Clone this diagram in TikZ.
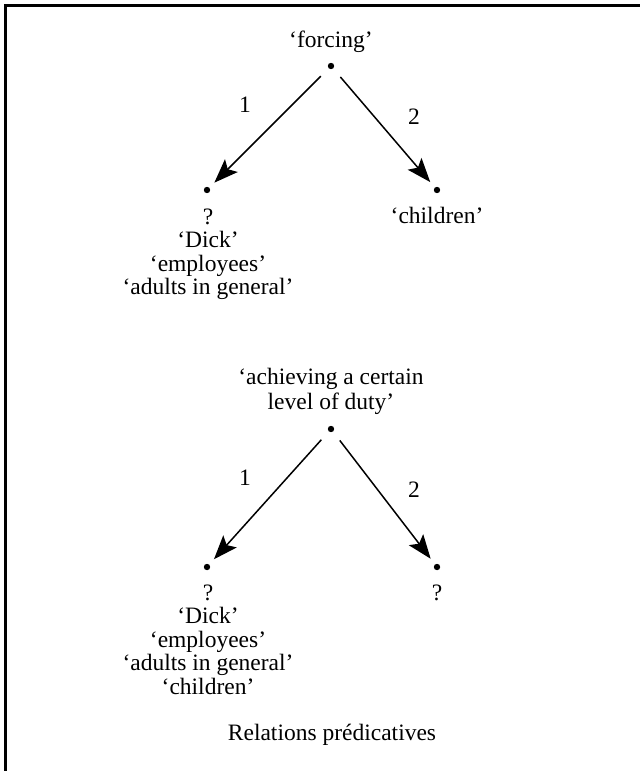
\documentclass[tikz,border=0pt]{standalone}
\usepackage{fontspec}
\setmainfont{Liberation Serif}
\usetikzlibrary{arrows.meta}
\begin{document}
\begin{tikzpicture}[x=0.5pt,y=-0.5pt,
  lbl/.style={font=\fontsize{11.75}{12.5}\selectfont, inner sep=0pt, anchor=base},
  pt/.style={circle, fill=black, inner sep=0pt, minimum size=3.2pt},
  arr/.style={-{Stealth[length=12pt,width=9pt,inset=2.5pt]}, line width=0.75pt, shorten <=5.4pt, shorten >=3.4pt},
  frame/.style={line width=1.25pt}]
\useasboundingbox (0,0) rectangle (640,771);
\draw[frame] (5.5,771) -- (5.5,5.5) -- (640,5.5);
% tree 1
\node[lbl] (forcing) at (331,47) {‘forcing’};
\node[pt] (t1) at (331,66) {};
\node[pt] (a1) at (207,190) {};
\node[pt] (b1) at (437,190) {};
\draw[arr] (t1) -- (a1);
\draw[arr] (t1) -- (b1);
\node[lbl] (one1) at (245,112) {1};
\node[lbl] (two1) at (414,124) {2};
\node[lbl] (qa1) at (208,224) {?};
\node[lbl] (dick1) at (208,247.5) {‘Dick’};
\node[lbl] (emp1) at (208,271) {‘employees’};
\node[lbl] (adu1) at (208,294.5) {‘adults in general’};
\node[lbl] (chi1) at (437,223) {‘children’};
% tree 2
\node[lbl] (ach) at (331,384) {‘achieving a certain};
\node[lbl] (lev) at (331,409) {level of duty’};
\node[pt] (t2) at (331,429) {};
\node[pt] (a2) at (207,567) {};
\node[pt] (b2) at (437,567) {};
\draw[arr] (t2) -- (a2);
\draw[arr] (t2) -- (b2);
\node[lbl] (one2) at (245,485) {1};
\node[lbl] (two2) at (414,497) {2};
\node[lbl] (qa2) at (208,600) {?};
\node[lbl] (dick2) at (208,623.5) {‘Dick’};
\node[lbl] (emp2) at (208,647) {‘employees’};
\node[lbl] (adu2) at (208,670.5) {‘adults in general’};
\node[lbl] (chi2) at (208,694) {‘children’};
\node[lbl] (qb2) at (437,600) {?};
\node[lbl] (rel) at (332,740) {Relations prédicatives};
\end{tikzpicture}
\end{document}
